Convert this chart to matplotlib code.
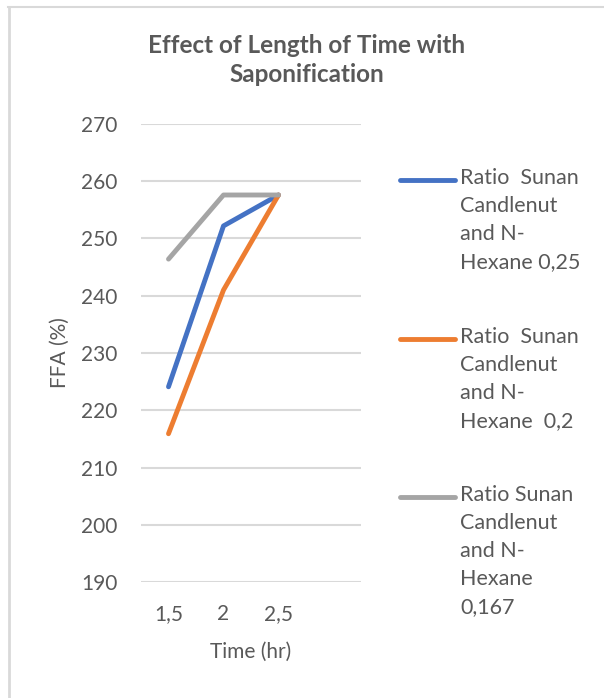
import matplotlib
matplotlib.use("Agg")
import matplotlib.pyplot as plt
from matplotlib.lines import Line2D

plt.rcParams['font.family'] = ['Lato', 'DejaVu Sans']

# Time categories (hr) and FFA values (%) for each ratio
times = ['1,5', '2', '2,5']
ffa_025 = [224.1, 252.2, 257.6]
ffa_02 = [215.9, 241.0, 257.6]
ffa_0167 = [246.4, 257.6, 257.6]

labels = ['Ratio  Sunan\nCandlenut\nand N-\nHexane 0,25',
          'Ratio  Sunan\nCandlenut\nand N-\nHexane  0,2',
          'Ratio Sunan\nCandlenut\nand N-\nHexane\n0,167']
colors = ['#4472C4', '#ED7D31', '#A5A5A5']
series = [ffa_025, ffa_02, ffa_0167]

text_col = '#595959'
grid_col = '#D9D9D9'

W, H = 604, 698
fig = plt.figure(figsize=(W / 100, H / 100), dpi=100)
ax = fig.add_axes([141 / W, 1 - 582 / H, 220 / W, (582 - 124) / H])

# four category slots, the last one left empty
x = list(range(len(times)))
for vals, c in zip(series, colors):
    ax.plot(x, vals, color=c, lw=3.5, solid_capstyle='round', solid_joinstyle='round', zorder=3)

ax.set_xlim(-0.5, 3.5)
ax.set_ylim(190, 270)
ax.set_yticks(range(190, 271, 10))
ax.set_xticks(x)
ax.set_xticklabels(times)
ax.yaxis.grid(True, color=grid_col, lw=1.5)
ax.set_axisbelow(True)
for s in ax.spines.values():
    s.set_visible(False)
ax.tick_params(length=0, labelsize=15, colors=text_col)
ax.tick_params(axis='y', pad=17)
ax.tick_params(axis='x', pad=16)

ax.set_xlabel('Time (hr)', fontsize=15, color=text_col, va='center')
ax.set_ylabel('FFA (%)', fontsize=15, color=text_col, va='center')
ax.xaxis.set_label_coords(0.5, (582 - 652) / 458)
ax.yaxis.set_label_coords((60 - 141) / 220, 0.5)

fig.text(307 / W, 1 - 60 / H, 'Effect of Length of Time with\nSaponification',
         ha='center', va='center', fontsize=17.5, fontweight='bold', color=text_col,
         linespacing=1.3)

# legend entries: handle aligned with first line of each label
entry_y = [180, 339, 497]
for lab, c, yy in zip(labels, colors, entry_y):
    fig.add_artist(Line2D([400 / W, 455 / W], [1 - yy / H] * 2, color=c, lw=3.5,
                          solid_capstyle='round', transform=fig.transFigure))
    fig.text(460 / W, 1 - (yy - 12) / H, lab, ha='left', va='top', fontsize=15.5,
             color=text_col, linespacing=1.5)

# chart area border (top and left edges)
fig.add_artist(Line2D([8 / W, 1], [1 - 7 / H] * 2, color='#D9D9D9', lw=1.5, transform=fig.transFigure))
fig.add_artist(Line2D([9 / W] * 2, [0, 1 - 7 / H], color='#D9D9D9', lw=2, transform=fig.transFigure))

fig.savefig('out.png', dpi=100, facecolor='white')
